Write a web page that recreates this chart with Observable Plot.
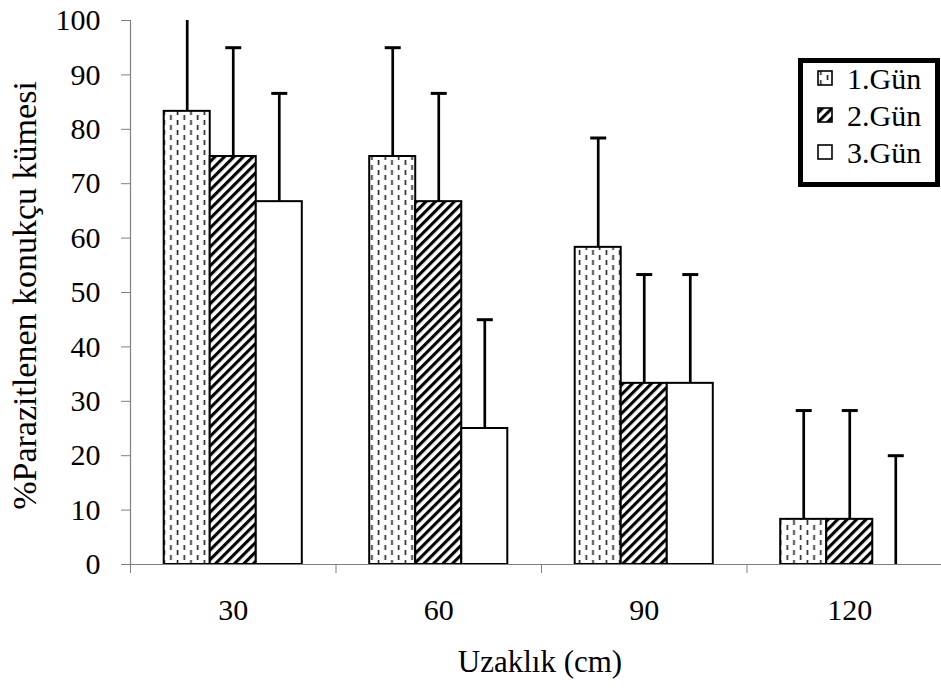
<!DOCTYPE html>
<html>
<head>
<meta charset="utf-8">
<script src="https://cdn.jsdelivr.net/npm/d3@7"></script>
<script src="https://cdn.jsdelivr.net/npm/@observablehq/plot@0.6"></script>
<style>
  body { margin: 0; background: #fff; overflow: hidden; }
  #chart { width: 941px; height: 690px; }
</style>
</head>
<body>
<div id="chart"></div>
<script>
// Distance from the release point (cm) and observation days
const distances = ["30", "60", "90", "120"];
const days = ["1.Gün", "2.Gün", "3.Gün"];

// Mean % of parasitised host clusters per day
const day1 = [83.3, 75.0, 58.3, 8.3];
const day2 = [75.0, 66.7, 33.3, 8.3];
const day3 = [66.7, 25.0, 33.3, 0.0];

// Standard deviations (upper error bars)
const sd1 = [20.0, 20.0, 20.1, 20.0];
const sd2 = [20.0, 19.9, 20.0, 20.0];
const sd3 = [19.9, 20.0, 20.0, 20.0];

const yTicks = [0, 10, 20, 30, 40, 50, 60, 70, 80, 90, 100];
const yTitle = "%Parazitlenen konukçu kümesi";
const xTitle = "Uzaklık (cm)";

const means = [day1, day2, day3];
const sds = [sd1, sd2, sd3];
const dayFills = ["url(#dash)", "url(#diag)", "white"];

const rows = distances.flatMap((d, i) =>
  days.map((day, j) => ({distance: d, day, value: means[j][i], sd: sds[j][i]}))
);

// Group layout in x units: one unit per distance category
const outer = d3.scaleBand().domain(distances).range([0, distances.length])
  .paddingInner(0.328).paddingOuter(0.164);
const inner = d3.scaleBand().domain(days).range([0, outer.bandwidth()]);
const barLeft = r => outer(r.distance) + inner(r.day);
const barRight = r => barLeft(r) + inner.bandwidth();
const barMid = r => barLeft(r) + inner.bandwidth() / 2;
const groupMid = d => outer(d) + outer.bandwidth() / 2;
const boundaries = d3.range(0, distances.length + 1);

// Horizontal cap for error bars
const capSymbol = {
  draw(context, size) {
    const w = Math.sqrt(size / Math.PI);
    context.moveTo(-w, 0);
    context.lineTo(w, 0);
  }
};

const axisGray = "#808080";
const serif = "'Liberation Serif', 'Times New Roman', serif";

const plot = Plot.plot({
  width: 941,
  height: 690,
  marginLeft: 130,
  marginRight: 0,
  marginTop: 20,
  marginBottom: 126,
  style: {fontFamily: serif, background: "white", color: "black"},
  x: {type: "linear", domain: [0, distances.length], range: [130, 952], axis: null},
  y: {domain: [0, 100], axis: null},
  marks: [
    ...days.map((day, j) =>
      Plot.rect(rows.filter(r => r.day === day), {
        x1: barLeft, x2: barRight, y1: () => 0, y2: "value",
        fill: dayFills[j], stroke: "black", strokeWidth: 2
      })
    ),
    Plot.ruleX(rows, {
      x: barMid, y1: "value", y2: r => r.value + r.sd,
      stroke: "black", strokeWidth: 2.7, clip: true
    }),
    Plot.dot(rows, {
      x: barMid, y: r => r.value + r.sd, symbol: capSymbol, r: 8,
      fill: "none", stroke: "black", strokeWidth: 3, clip: true
    }),
    Plot.ruleX([0], {stroke: axisGray, strokeWidth: 1.2}),
    Plot.ruleY([0], {stroke: axisGray, strokeWidth: 1.2}),
    Plot.axisY(yTicks, {
      tickSize: 9, tickPadding: 21, fontSize: 30,
      stroke: axisGray, fill: "black", label: null
    }),
    Plot.axisX(boundaries, {
      tickSize: 9, tickFormat: () => "", stroke: axisGray, label: null
    }),
    Plot.text(distances, {
      x: groupMid, y: () => 0, dy: 46, text: d => d,
      fontSize: 30, textAnchor: "middle", lineAnchor: "middle"
    }),
    Plot.text([xTitle], {
      frameAnchor: "bottom", dy: 98, dx: 4, text: d => d,
      fontSize: 31, textAnchor: "middle", lineAnchor: "middle"
    }),
    Plot.text([yTitle], {
      frameAnchor: "left", dx: -105, dy: 3, rotate: -90, text: d => d,
      fontSize: 34, textAnchor: "middle", lineAnchor: "middle"
    })
  ]
});

// Fill patterns for the bars
const svg = d3.select(plot);
const defs = svg.insert("defs", ":first-child");

const dash = defs.append("pattern").attr("id", "dash")
  .attr("patternUnits", "userSpaceOnUse").attr("width", 13.4).attr("height", 10);
dash.append("rect").attr("width", 13.4).attr("height", 10).attr("fill", "white");
dash.append("rect").attr("x", 2.6).attr("y", 0).attr("width", 1.6).attr("height", 5).attr("fill", "#222");
dash.append("rect").attr("x", 9.3).attr("y", 5).attr("width", 1.6).attr("height", 5).attr("fill", "#222");

const diag = defs.append("pattern").attr("id", "diag")
  .attr("patternUnits", "userSpaceOnUse").attr("width", 6.7).attr("height", 6.7)
  .attr("patternTransform", "rotate(45)");
diag.append("rect").attr("width", 6.7).attr("height", 6.7).attr("fill", "white");
diag.append("rect").attr("width", 3.1).attr("height", 6.7).attr("fill", "black");

// Legend box
const legend = svg.append("g")
  .attr("font-family", serif).attr("font-size", 30).attr("text-anchor", "start");
legend.append("rect")
  .attr("x", 800.5).attr("y", 60.5).attr("width", 137).attr("height", 124)
  .attr("fill", "white").attr("stroke", "black").attr("stroke-width", 5);
const rowY = [78, 115, 152];
days.forEach((day, j) => {
  legend.append("rect")
    .attr("x", 818).attr("y", rowY[j] - 7).attr("width", 14).attr("height", 14)
    .attr("fill", dayFills[j]).attr("stroke", "black").attr("stroke-width", 1.6);
  legend.append("text")
    .attr("x", 847).attr("y", rowY[j]).attr("dy", "0.35em")
    .attr("text-anchor", "start")
    .text(day);
});

document.getElementById("chart").append(plot);
</script>
</body>
</html>
